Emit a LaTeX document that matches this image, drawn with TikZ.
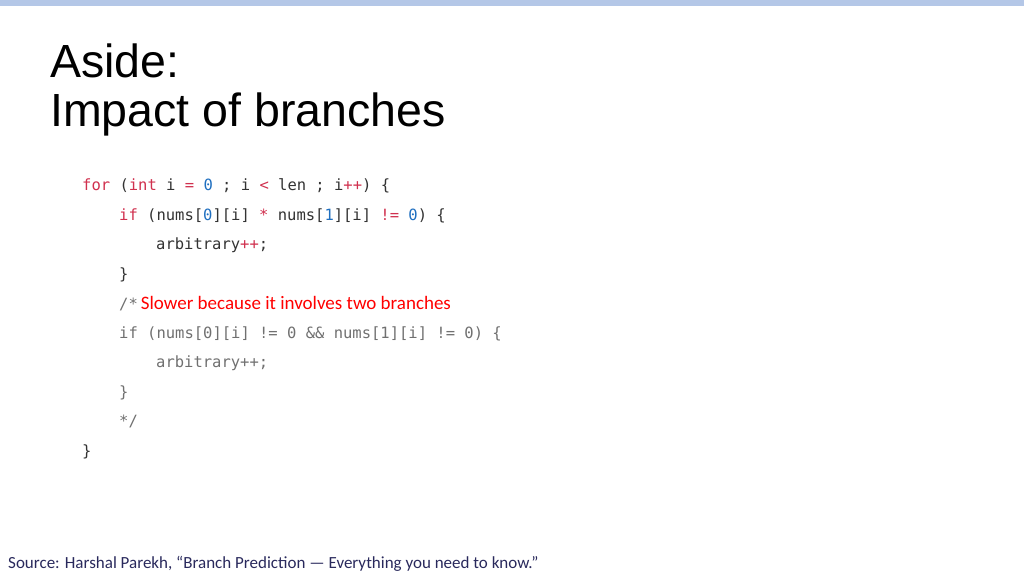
\documentclass[tikz,border=0pt]{standalone}
\usepackage{fontspec}
\setmainfont{Liberation Sans}
\newfontfamily\codefont{DejaVu Sans Mono}
\newfontfamily\calib{Carlito}
\definecolor{kw}{HTML}{D0304E}
\definecolor{num}{HTML}{1F6FC0}
\definecolor{txt}{HTML}{333333}
\definecolor{cmt}{HTML}{707070}
\definecolor{bar}{HTML}{B4C7E7}
\begin{document}
\begin{tikzpicture}[x=1pt,y=-1pt,
  title/.style={anchor=base west,inner sep=0,font=\fontsize{46.5}{50}\selectfont},
  code/.style={anchor=base west,inner sep=0,text=txt,font=\codefont\fontsize{15.5}{17}\selectfont}]
\useasboundingbox (0,0) rectangle (1024,576);
\fill[bar] (0,0) rectangle (1024,6);
\node[title] (t1) at (50,77) {Aside:};
\node[title] (t2) at (50,126) {Impact of branches};
\newcommand\K[1]{\textcolor{kw}{#1}}
\newcommand\N[1]{\textcolor{num}{#1}}
\node[code] (c1) at (82,190) {\K{for} (\K{int} i \K{=} \N{0} ; i \K{<} len ; i\K{++}) \{};
\node[code] (c2) at (119,220) {\K{if} (nums[\N{0}][i] \K{*} nums[\N{1}][i] \K{!=} \N{0}) \{};
\node[code] (c3) at (156,249) {arbitrary\K{++};};
\node[code] (c4) at (119,279) {\}};
\node[code] (c5) at (119,309) {\textcolor{cmt}{/*}\hspace{3pt}{\calib\fontsize{19}{21}\selectfont\textcolor{red}{Slower because it involves two branches}}};
\node[code,text=cmt] (c6) at (119,338) {if (nums[0][i] != 0 \&\& nums[1][i] != 0) \{};
\node[code,text=cmt] (c7) at (156,367) {arbitrary++;};
\node[code,text=cmt] (c8) at (119,397) {\}};
\node[code,text=cmt] (c9) at (119,426) {*/};
\node[code] (c10) at (82,456) {\}};
\node[anchor=base west,inner sep=0,font=\calib\fontsize{17}{19}\selectfont,text=txt!80!blue] (src) at (8,568) {Source: Harshal Parekh, “Branch Prediction — Everything you need to know.”};
\end{tikzpicture}
\end{document}
